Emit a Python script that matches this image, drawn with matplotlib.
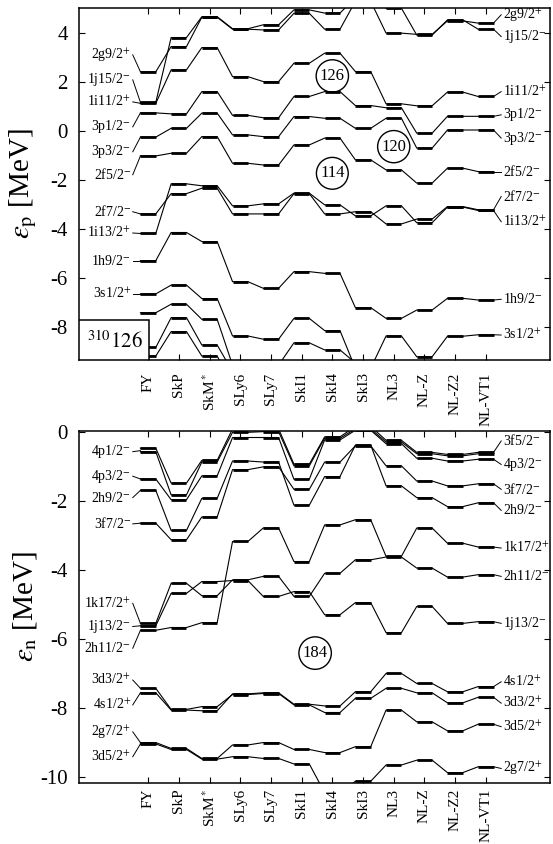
import numpy as np
import matplotlib
matplotlib.use('Agg')
import matplotlib.pyplot as plt
from matplotlib.patches import Rectangle

plt.rcParams['font.family'] = ['Liberation Serif', 'DejaVu Serif']
plt.rcParams['mathtext.fontset'] = 'stix'
plt.rcParams['axes.unicode_minus'] = False

forces = ['FY', 'SkP', 'SkM$^*$', 'SLy6', 'SLy7', 'SkI1', 'SkI4', 'SkI3',
          'NL3', 'NL-Z', 'NL-Z2', 'NL-VT1']

# proton single-particle energies (MeV), one value per force
p_2g9 = [2.42, 3.45, 4.65, 4.16, 4.13, 4.81, 4.16, 5.30, 4.00, 3.95, 4.50, 4.41]
p_1j15 = [1.17, 3.82, 4.67, 4.18, 4.34, 4.95, 4.82, 5.45, 5.02, 3.92, 4.54, 4.16]
p_1i11 = [1.13, 2.50, 3.41, 2.22, 2.02, 2.77, 3.18, 2.43, 1.11, 1.03, 1.59, 1.41]
p_3p1 = [0.74, 0.70, 1.61, 0.64, 0.54, 1.41, 1.61, 1.04, 0.95, -0.09, 0.60, 0.60]
p_3p3 = [-0.25, 0.11, 0.73, -0.16, -0.23, 0.59, 0.52, 0.11, 0.52, -0.70, 0.04, 0.04]
p_2f5 = [-1.02, -0.91, -0.23, -1.32, -1.39, -0.57, -0.29, -1.18, -1.59, -2.13, -1.52, -1.66]
p_2f7 = [-3.39, -2.56, -2.34, -3.39, -3.39, -2.56, -3.39, -3.30, -3.80, -3.60, -3.09, -3.22]
p_1i13 = [-4.19, -2.16, -2.24, -3.06, -2.98, -2.54, -3.02, -3.47, -3.06, -3.75, -3.11, -3.25]
p_1h9 = [-5.30, -4.15, -4.52, -6.16, -6.43, -5.75, -5.82, -7.22, -7.66, -7.32, -6.84, -6.91]
p_3s1 = [-6.66, -6.30, -6.85, -8.38, -8.51, -7.66, -8.16, -9.70, -8.38, -9.23, -8.39, -8.33]
p_2d3 = [-7.43, -7.08, -7.70, -9.57, -9.57, -8.66, -8.95, -9.48, -10.4, -10.4, -10.4, -10.4]
p_2d5 = [-8.85, -7.63, -8.75, -9.84, -10.4, -10.4, -10.4, -10.4, -10.4, -10.4, -10.4, -10.4]
p_1h11 = [-9.20, -8.20, -9.20, -10.4, -10.4, -10.4, -10.4, -10.4, -10.4, -10.4, -10.4, -10.4]

# neutron single-particle energies (MeV)
n_3f5 = [-0.48, -1.49, -0.83, 0.08, 0.08, -0.94, -0.15, 0.15, -0.25, -0.60, -0.66, -0.60]
n_4p1 = [-0.58, -1.83, -0.88, -0.02, 0.00, -0.99, -0.19, 0.08, -0.30, -0.64, -0.70, -0.64]
n_4p3 = [-1.37, -1.97, -1.28, -0.17, -0.17, -1.38, -0.24, 0.04, -0.35, -0.77, -0.85, -0.80]
n_2h9 = [-1.70, -2.86, -1.93, -0.85, -0.88, -2.13, -1.30, -0.39, -1.57, -1.91, -2.17, -2.06]
n_3f7 = [-2.65, -3.13, -2.47, -1.10, -1.02, -1.67, -0.88, -0.41, -0.99, -1.43, -1.57, -1.51]
n_1k17 = [-5.75, -5.67, -5.53, -3.18, -2.79, -3.76, -2.70, -2.55, -3.61, -2.79, -3.23, -3.34]
n_2h11 = [-5.55, -4.39, -4.75, -4.29, -4.19, -4.77, -4.10, -3.71, -3.63, -3.95, -4.21, -4.14]
n_1j13 = [-5.62, -4.68, -4.34, -4.31, -4.77, -4.63, -5.30, -4.95, -5.82, -5.06, -5.55, -5.50]
n_4s1 = [-7.56, -8.06, -8.08, -7.59, -7.56, -7.89, -7.94, -7.53, -7.00, -7.29, -7.53, -7.38]
n_3d3 = [-7.43, -8.04, -7.96, -7.61, -7.58, -7.91, -8.13, -7.72, -7.43, -7.56, -7.85, -7.69]
n_3d5 = [-9.00, -9.17, -9.46, -9.07, -9.00, -9.20, -9.29, -9.12, -8.06, -8.40, -8.66, -8.47]
n_2g7 = [-9.04, -9.20, -9.48, -9.41, -9.46, -9.62, -10.45, -10.12, -9.65, -9.51, -9.87, -9.70]

proton_levels = [p_2g9, p_1j15, p_1i11, p_3p1, p_3p3, p_2f5, p_2f7, p_1i13,
                 p_1h9, p_3s1, p_2d3, p_2d5, p_1h11]
neutron_levels = [n_3f5, n_4p1, n_4p3, n_2h9, n_3f7, n_1k17, n_2h11, n_1j13,
                  n_4s1, n_3d3, n_3d5, n_2g7]

# (text, label height, level energy at the end of the leader)
p_left = [('2g9/2$^{+}$', 3.11, 2.42), ('1j15/2$^{-}$', 2.09, 1.17),
          ('1i11/2$^{+}$', 1.19, 1.13), ('3p1/2$^{-}$', 0.17, 0.74),
          ('3p3/2$^{-}$', -0.85, -0.25), ('2f5/2$^{-}$', -1.79, -1.02),
          ('2f7/2$^{-}$', -3.30, -3.39), ('1i13/2$^{+}$', -4.17, -4.19),
          ('1h9/2$^{-}$', -5.30, -5.30), ('3s1/2$^{+}$', -6.66, -6.66)]
p_right = [('2g9/2$^{+}$', 4.75, 4.41), ('1j15/2$^{-}$', 3.86, 4.16),
           ('1i11/2$^{+}$', 1.61, 1.41), ('3p1/2$^{-}$', 0.66, 0.60),
           ('3p3/2$^{-}$', -0.29, 0.04), ('2f5/2$^{-}$', -1.66, -1.66),
           ('2f7/2$^{-}$', -2.68, -3.22), ('1i13/2$^{+}$', -3.71, -3.25),
           ('1h9/2$^{-}$', -6.88, -6.91), ('3s1/2$^{+}$', -8.34, -8.33)]
n_left = [('4p1/2$^{-}$', -0.58, -0.55), ('4p3/2$^{-}$', -1.29, -1.37),
          ('2h9/2$^{-}$', -1.91, -1.70), ('3f7/2$^{-}$', -2.67, -2.65),
          ('1k17/2$^{+}$', -4.97, -5.55), ('1j13/2$^{-}$', -5.64, -5.62),
          ('2h11/2$^{-}$', -6.27, -5.75), ('3d3/2$^{+}$', -7.19, -7.43),
          ('4s1/2$^{+}$', -7.91, -7.56), ('2g7/2$^{+}$', -8.69, -9.00),
          ('3d5/2$^{+}$', -9.41, -9.04)]
n_right = [('3f5/2$^{-}$', -0.27, -0.60), ('4p3/2$^{-}$', -0.95, -0.80),
           ('3f7/2$^{-}$', -1.67, -1.51), ('2h9/2$^{-}$', -2.28, -2.06),
           ('1k17/2$^{+}$', -3.37, -3.34), ('2h11/2$^{-}$', -4.19, -4.14),
           ('1j13/2$^{-}$', -5.55, -5.50), ('4s1/2$^{+}$', -7.24, -7.38),
           ('3d3/2$^{+}$', -7.86, -7.69), ('3d5/2$^{+}$', -8.54, -8.47),
           ('2g7/2$^{+}$', -9.75, -9.70)]

# shell gaps marked with circled numbers
p_gaps = [('126', 6.0, 2.25), ('120', 8.0, -0.64), ('114', 6.0, -1.73)]
n_gaps = [('184', 5.44, -6.41)]

W = 0.25  # half width of a level bar


def draw_levels(ax, levels):
    x = np.arange(len(forces))
    for e in levels:
        e = np.asarray(e)
        xs = np.column_stack([x - W, x + W]).ravel()
        ax.plot(xs, np.repeat(e, 2), color='k', lw=0.8)
        ax.hlines(e, x - W, x + W, color='k', lw=2.0)


def draw_labels(ax, left, right):
    last = len(forces) - 1
    for txt, yl, yt in left:
        ax.plot([-0.5, -W], [yl, yt], color='k', lw=0.7)
        ax.text(-0.55, yl, txt, ha='right', va='center', fontsize=10)
    for txt, yl, yt in right:
        ax.plot([last + W, last + 0.5], [yt, yl], color='k', lw=0.7)
        ax.text(last + 0.55, yl, txt, ha='left', va='center', fontsize=10)


def draw_gaps(ax, gaps):
    for txt, x, y in gaps:
        ax.text(x, y, txt, ha='center', va='center', fontsize=12,
                bbox=dict(boxstyle='circle,pad=0.22', fc='none', ec='k', lw=1.0))


def style_axes(ax, ylim, ylabel, xpad):
    ax.set_xlim(-2.25, 13.09)
    ax.set_ylim(*ylim)
    ax.set_xticks(np.arange(len(forces)))
    ax.set_xticklabels(forces, rotation=90, fontsize=11)
    ax.tick_params(direction='in', top=True, right=True, length=4, width=0.8)
    ax.tick_params(axis='y', labelsize=15, pad=8)
    ax.tick_params(axis='x', pad=xpad)
    for s in ax.spines.values():
        s.set_linewidth(1.1)
    ax.set_ylabel(ylabel, fontsize=21)
    ax.yaxis.set_label_coords(-0.085, 0.5)


fig = plt.figure(figsize=(5.53, 8.44), dpi=100)
ax1 = fig.add_axes([0.1429, 0.5735, 0.8517, 0.4171])
ax2 = fig.add_axes([0.1429, 0.0723, 0.8517, 0.4171])

draw_levels(ax1, proton_levels)
draw_labels(ax1, p_left, p_right)
draw_gaps(ax1, p_gaps)
style_axes(ax1, (-9.36, 5.03), r'$\epsilon_{\mathrm{p}}$ [MeV]', 9)
ax1.set_yticks([4, 2, 0, -2, -4, -6, -8])

# nucleus box in the lower left corner
ax1.add_patch(Rectangle((-2.25, -9.36), 2.28, 1.63, fc='white', ec='k',
                        lw=1.1, zorder=5))
ax1.text(-1.09, -8.62, r'$^{310}\mathrm{126}$', ha='center', va='center',
         fontsize=15, zorder=6)

draw_levels(ax2, neutron_levels)
draw_labels(ax2, n_left, n_right)
draw_gaps(ax2, n_gaps)
style_axes(ax2, (-10.17, 0.02), r'$\epsilon_{\mathrm{n}}$ [MeV]', 4)
ax2.set_yticks([0, -2, -4, -6, -8, -10])

fig.savefig('out.png', dpi=100)
